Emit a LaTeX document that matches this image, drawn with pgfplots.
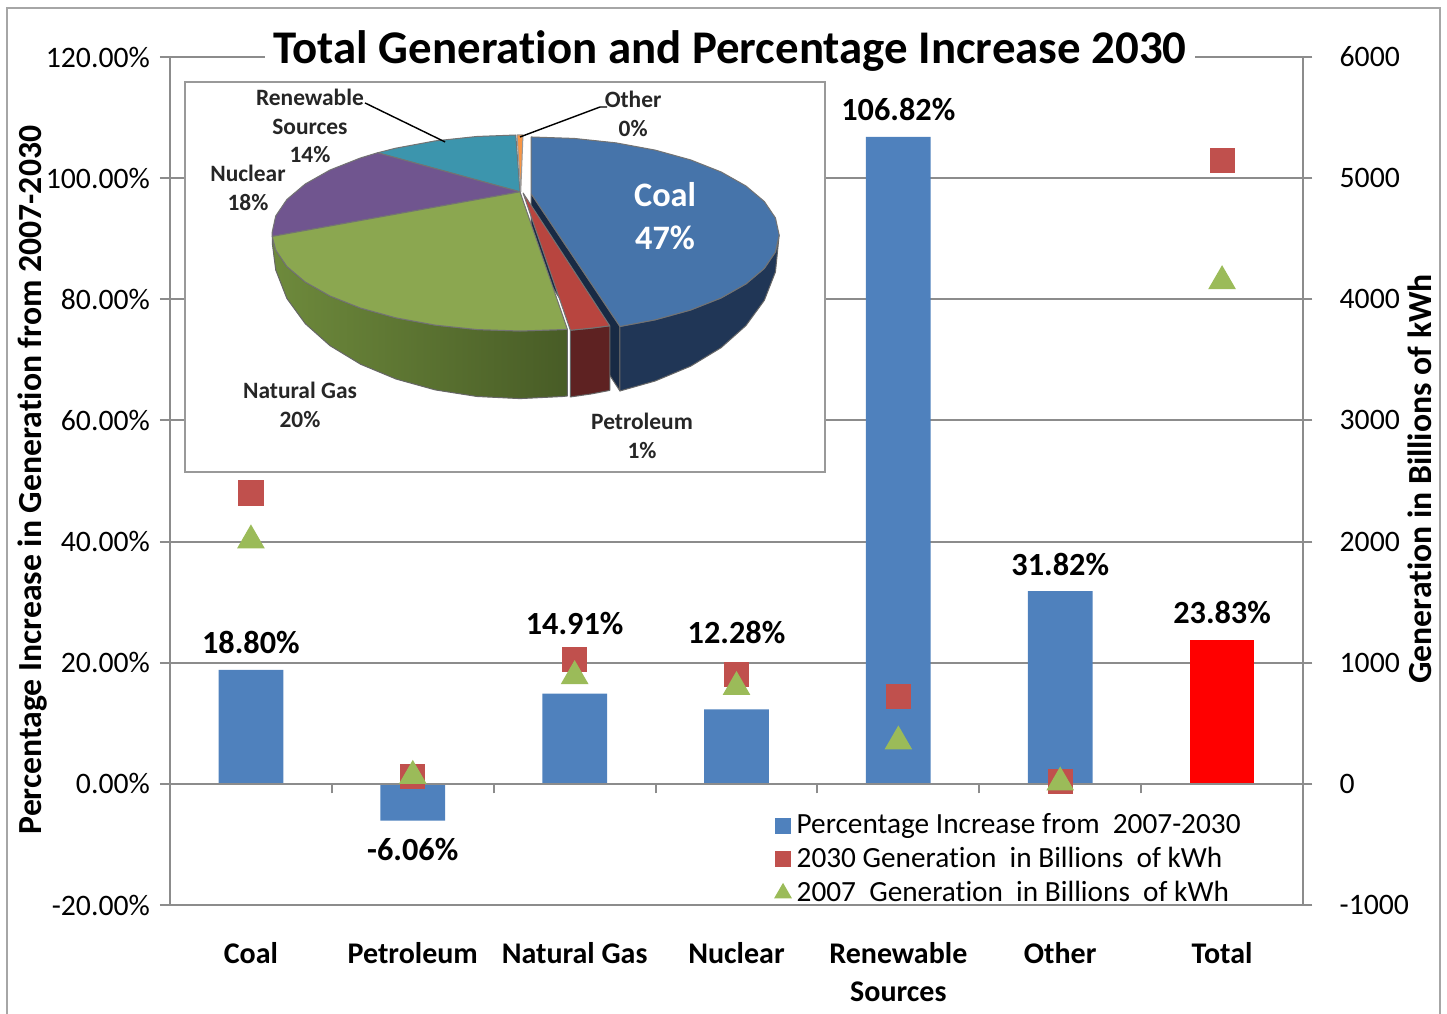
\documentclass[border=0pt]{standalone}
\usepackage{fontspec}
\setmainfont{Carlito}[Ligatures=NoCommon]
\usepackage{pgfplots}
\pgfplotsset{compat=1.18}

\definecolor{barblue}{HTML}{4F81BD}
\definecolor{sqred}{HTML}{C0504D}
\definecolor{trigreen}{HTML}{9BBB59}
\definecolor{gridgray}{HTML}{8C8C8C}
\definecolor{coaltop}{HTML}{4674AA}
\definecolor{coalside}{HTML}{203656}
\definecolor{coalcut}{HTML}{182A44}
\definecolor{petrotop}{HTML}{B8453F}
\definecolor{petroside}{HTML}{5E2222}
\definecolor{ngtop}{HTML}{8BA750}
\definecolor{ngsideL}{HTML}{6E8A3C}
\definecolor{ngsideR}{HTML}{485C26}
\definecolor{nuc}{HTML}{70558F}
\definecolor{ren}{HTML}{3C95AD}
\definecolor{oth}{HTML}{F79646}

\pgfplotsset{/pgf/number format/assume math mode=true}

\begin{document}
\begin{tikzpicture}
\useasboundingbox (0,0) rectangle (506.45pt,354.55pt);
\draw[gray!70, line width=0.8pt] (2.45pt,-5pt) rectangle (504pt,351.75pt);

% main axis: percentage increase (left)
\begin{axis}[
    at={(59.5pt,37.8pt)}, anchor=south west,
    scale only axis, width=396.55pt, height=296.8pt,
    xmin=-0.5, xmax=6.5, ymin=-20, ymax=120,
    axis y line*=left, axis x line*=bottom,
    x axis line style={draw=none},
    xtick={0,...,6},
    xticklabels={Coal,Petroleum,Natural Gas,Nuclear,{Renewable\\Sources},Other,Total},
    xticklabel style={font=\bfseries\fontsize{10.5}{13.3}\selectfont, align=center,
        inner sep=1pt, yshift=-8.3pt},
    major x tick style={draw=none},
    ytick={-20,0,20,40,60,80,100,120},
    yticklabels={-20.00\%,0.00\%,20.00\%,40.00\%,60.00\%,80.00\%,100.00\%,120.00\%},
    yticklabel style={font=\fontsize{10.4}{12}\selectfont},
    ymajorgrids, grid style={gridgray, line width=0.7pt},
    axis line style={gridgray, line width=0.7pt},
    tick style={gridgray, line width=0.7pt},
    tick align=outside, major tick length=3.5pt,
    ybar, bar width=0.4, bar shift=0pt,
    nodes near coords, point meta=explicit symbolic,
    every node near coord/.append style={font=\bfseries\fontsize{11.3}{13}\selectfont, black},
    clip=false,
]
\addplot[fill=barblue, draw=none,
    visualization depends on={\thisrow{off} \as \myoff},
    every node near coord/.append style={yshift=\myoff pt}]
    table[x=x, y=y, meta=lab] {
    x  y       lab        off
    0  18.80   18.80\%    2
    1  -6.06   -6.06\%    -17.5
    2  14.91   14.91\%    17
    3  12.28   12.28\%    19.3
    4  106.82  106.82\%   2
    5  31.82   31.82\%    2
};
\addplot[fill=red, draw=none, every node near coord/.append style={yshift=2pt}]
    coordinates {(6,23.83) [23.83\%]};
\end{axis}

% secondary axis: generation (right)
\begin{axis}[
    at={(59.5pt,37.8pt)}, anchor=south west,
    scale only axis, width=396.55pt, height=296.8pt,
    xmin=-0.5, xmax=6.5, ymin=-1000, ymax=6000,
    axis y line*=right, axis x line*=middle,
    x axis line style={-},
    xtick={0.5,1.5,2.5,3.5,4.5,5.5}, xticklabels={,,,,,},
    ytick={-1000,0,1000,2000,3000,4000,5000,6000},
    yticklabels={-1000,0,1000,2000,3000,4000,5000,6000},
    yticklabel style={font=\fontsize{10.4}{12}\selectfont, xshift=6pt},
    axis line style={gridgray, line width=0.7pt},
    tick style={gridgray, line width=0.7pt},
    tick align=outside, major tick length=3.3pt,
    legend style={at={(0.526,0.122)}, anchor=north west, draw=none, fill=none,
        font=\fontsize{10.25}{12}\selectfont, row sep=-0.8pt},
    legend cell align=left,
    clip=false,
]
\addlegendimage{only marks, mark=square*, mark size=2.6pt, barblue}
\addlegendentry{Percentage Increase from~ 2007-2030}
\addlegendimage{only marks, mark=square*, mark size=2.6pt, sqred}
\addlegendentry{2030 Generation~ in Billions~ of kWh}
\addlegendimage{only marks, mark=triangle*, mark size=3.2pt, trigreen}
\addlegendentry{2007~ Generation~ in Billions~ of kWh}
\addplot[only marks, mark=square*, mark size=4.2pt, sqred, forget plot] coordinates {
    (0,2401) (1,62) (2,1030) (3,905) (4,724) (5,20) (6,5148)
};
\addplot[only marks, mark=triangle*, mark size=5.2pt, trigreen, forget plot] coordinates {
    (0,2010) (1,66) (2,890) (3,800) (4,350) (5,12) (6,4150)
};
\end{axis}

% inset 3-D pie of 2030 shares
\begin{axis}[
    at={(64.75pt,189.35pt)}, anchor=south west,
    scale only axis, width=224pt, height=136.5pt,
    xmin=-1.3508, xmax=1.2298, ymin=-2.4388, ymax=1.5408,
    xtick=\empty, ytick=\empty,
    axis line style={draw=gray!80, line width=0.6pt},
    axis background/.style={fill=white},
    clip=false,
    every axis plot/.append style={line width=0.35pt, line join=round},
]
% Renewable
\addplot[fill=ren, draw=black!55] coordinates {
    (0,0.42) (-0.574,0.819) (-0.5,0.866) (-0.342,0.940) (-0.174,0.985) (-0.017,1.0) (0,0.42)};
% Other
\addplot[fill=oth, draw=black!40] coordinates {
    (0.003,0.42) (-0.012,1.0) (0.012,1.0) (0.003,0.42)};
% Nuclear
\addplot[fill=nuc, draw=black!55] coordinates {
    (0,0.42) (-0.999,-0.035) (-1,0) (-0.985,0.174) (-0.940,0.342) (-0.866,0.5)
    (-0.766,0.643) (-0.643,0.766) (-0.574,0.819) (0,0.42)};
% Coal (exploded): cut face, side, top
\addplot[fill=coalcut, draw=black!60] coordinates {
    (0.045,0.40) (0.403,-0.954) (0.403,-1.612) (0.045,-0.22) (0.045,0.40)};
\addplot[fill=coalside, draw=black!60] coordinates {
    (1.045,-0.020) (1.030,-0.194) (0.985,-0.362) (0.911,-0.520) (0.811,-0.663)
    (0.688,-0.786) (0.545,-0.886) (0.403,-0.954) (0.403,-1.612) (0.545,-1.510)
    (0.688,-1.359) (0.811,-1.170) (0.911,-0.945) (0.985,-0.688) (1.030,-0.397) (1.045,-0.020)};
\addplot[fill=coaltop, draw=black!55] coordinates {
    (0.045,0.40) (0.045,0.98) (0.219,0.965) (0.387,0.920) (0.545,0.846) (0.688,0.746)
    (0.811,0.623) (0.911,0.480) (0.985,0.322) (1.030,0.154) (1.045,-0.020) (1.030,-0.194)
    (0.985,-0.362) (0.911,-0.520) (0.811,-0.663) (0.688,-0.786) (0.545,-0.886)
    (0.403,-0.954) (0.045,0.40)};
% Natural Gas: side, top
\addplot[left color=ngsideL, right color=ngsideR, draw=black!60] coordinates {
    (0.191,-0.982) (0.174,-0.985) (0,-1) (-0.174,-0.985) (-0.342,-0.94) (-0.5,-0.866)
    (-0.643,-0.766) (-0.766,-0.643) (-0.866,-0.5) (-0.94,-0.342) (-0.985,-0.174)
    (-0.999,-0.035) (-0.999,-0.101) (-0.985,-0.377) (-0.94,-0.668) (-0.866,-0.925)
    (-0.766,-1.15) (-0.643,-1.339) (-0.5,-1.49) (-0.342,-1.601) (-0.174,-1.668)
    (0,-1.69) (0.174,-1.668) (0.191,-1.663) (0.191,-0.982)};
\addplot[fill=ngtop, draw=black!55] coordinates {
    (0,0.42) (0.191,-0.982) (0.174,-0.985) (0,-1) (-0.174,-0.985) (-0.342,-0.94)
    (-0.5,-0.866) (-0.643,-0.766) (-0.766,-0.643) (-0.866,-0.5) (-0.94,-0.342)
    (-0.985,-0.174) (-0.999,-0.035) (0,0.42)};
% Petroleum: side, top
\addplot[fill=petroside, draw=black!60] coordinates {
    (0.362,-0.947) (0.288,-0.971) (0.203,-0.992) (0.203,-1.673) (0.288,-1.642)
    (0.362,-1.606) (0.362,-0.947)};
\addplot[fill=petrotop, draw=black!55] coordinates {
    (0.012,0.41) (0.362,-0.947) (0.288,-0.971) (0.203,-0.992) (0.012,0.41)};
% leader lines
\addplot[black, line width=0.5pt] coordinates {(-0.625,1.327) (-0.302,0.929)};
\addplot[black, line width=0.5pt] coordinates {(0,0.98) (0.323,1.286) (0.351,1.286)};
% labels
\begin{scope}[every node/.style={font=\bfseries\fontsize{8.2}{10}\selectfont, align=center, text=black!85}]
\node at (axis cs:-0.847,1.092) {Renewable\\Sources\\14\%};
\node at (axis cs:-1.097,0.459) {Nuclear\\18\%};
\node at (axis cs:0.456,1.214) {Other\\0\%};
\node at (axis cs:-0.887,-1.755) {Natural Gas\\20\%};
\node at (axis cs:0.492,-2.071) {Petroleum\\1\%};
\end{scope}
\node[font=\bfseries\fontsize{12}{15}\selectfont, align=center, text=white] at (axis cs:0.585,0.173) {Coal\\47\%};
\end{axis}

% title and axis titles
\node[fill=white, inner sep=3pt, font=\bfseries\fontsize{16.4}{19}\selectfont] at (255.5pt,336.7pt)
    {Total Generation and Percentage Increase 2030};
\node[rotate=90, font=\bfseries\fontsize{11.8}{14}\selectfont] at (11.55pt,186.55pt)
    {Percentage Increase in Generation from 2007-2030};
\node[rotate=90, font=\bfseries\fontsize{11.8}{14}\selectfont] at (497pt,186.9pt)
    {Generation in Billions of kWh};
\end{tikzpicture}
\end{document}
